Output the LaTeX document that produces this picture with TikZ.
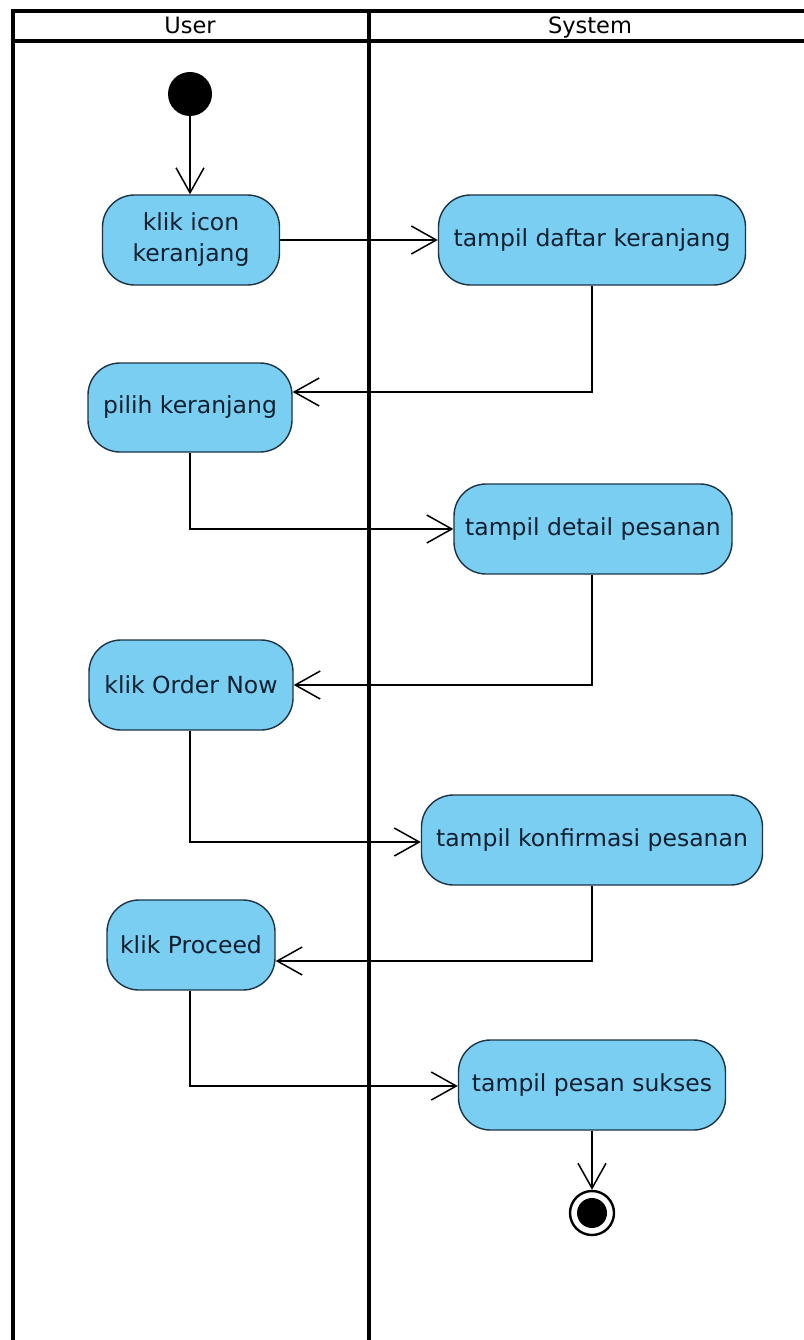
\documentclass[tikz,border=0pt]{standalone}
\usepackage{fontspec}
\setmainfont{DejaVu Sans}
\usetikzlibrary{arrows.meta}
\definecolor{actfill}{RGB}{122,206,242}
\definecolor{actline}{RGB}{30,52,70}
\definecolor{acttext}{RGB}{14,32,48}
\tikzset{
  action/.style={draw=actline, fill=actfill, line width=1.4pt, rounded corners=32pt,
    inner sep=0pt, align=center, text=acttext,
    font=\fontsize{23.5}{31}\selectfont},
  flow/.style={line width=1.8pt, -{Straight Barb[length=25pt,width=28pt,line width=1.5pt]}},
  lane/.style={line width=3.5pt, line cap=rect},
  lanehead/.style={font=\fontsize{22.5}{26}\selectfont, inner sep=0pt, anchor=base}
}
\begin{document}
\begin{tikzpicture}[x=1pt,y=-1pt]
\useasboundingbox (0,0) rectangle (803,1340);
\fill[white] (0,0) rectangle (803,1340);

% swimlane frame
\draw[lane] (13,1342) -- (13,11) -- (805,11);
\draw[lane] (13,41) -- (805,41);
\draw[lane] (369,11) -- (369,1342);
\node[lanehead] (userlane) at (190,34) {User};
\node[lanehead] (syslane) at (590,34) {System};

% initial and final states
\node[circle, fill=black, minimum size=44pt, inner sep=0pt] (start) at (190,94) {};
\node[circle, draw=black, line width=2.4pt, fill=white, minimum size=44pt, inner sep=0pt] (finish) at (592,1213) {};
\node[circle, fill=black, minimum size=30pt, inner sep=0pt] (finishdot) at (592,1213) {};

% actions
\node[action, minimum width=177pt, minimum height=90pt] (klik) at (191,240) {klik icon\\keranjang};
\node[action, minimum width=307pt, minimum height=90pt] (daftar) at (592,240) {tampil daftar keranjang};
\node[action, minimum width=204pt, minimum height=89pt] (pilih) at (190,407.5) {pilih keranjang};
\node[action, minimum width=278pt, minimum height=90pt] (detail) at (593,529) {tampil detail pesanan};
\node[action, minimum width=204pt, minimum height=90pt] (order) at (191,685) {klik Order Now};
\node[action, minimum width=341pt, minimum height=90pt] (konf) at (592,840) {tampil konfirmasi pesanan};
\node[action, minimum width=168pt, minimum height=90pt] (proceed) at (191,945) {klik Proceed};
\node[action, minimum width=267pt, minimum height=90pt] (sukses) at (592,1085) {tampil pesan sukses};

% control flows
\draw[flow] (start) -- (start |- klik.north);
\draw[flow] (klik) -- (daftar);
\draw[flow] (daftar.south) |- ([yshift=15.5pt]pilih.east);
\draw[flow] (pilih.south) |- (detail.west);
\draw[flow] ([xshift=-1pt]detail.south) |- (order.east);
\draw[flow] ([xshift=-1pt]order.south) |- ([yshift=-2pt]konf.west);
\draw[flow] (konf.south) |- ([yshift=-16pt]proceed.east);
\draw[flow] ([xshift=-1pt]proceed.south) |- ([yshift=-1pt]sukses.west);
\draw[flow] (sukses.south) -- (finish.north);
\end{tikzpicture}
\end{document}
